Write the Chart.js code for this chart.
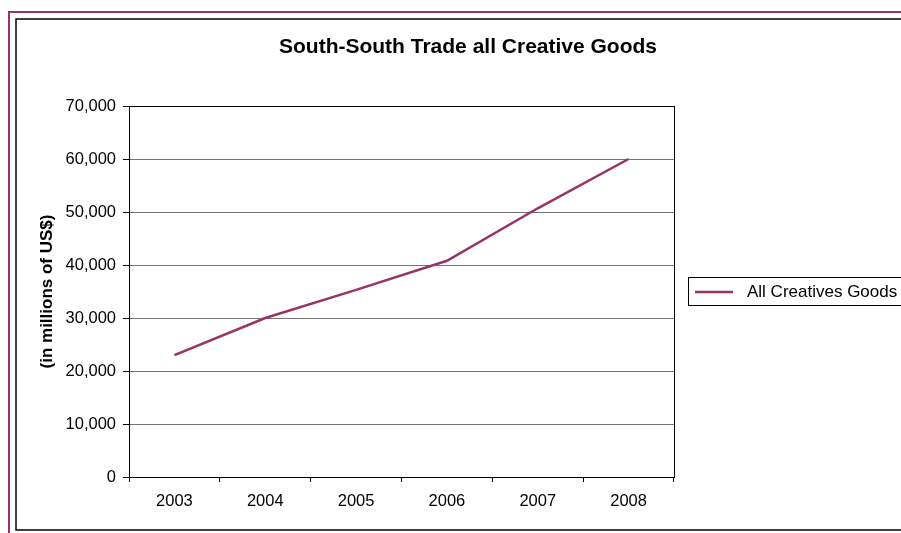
<!DOCTYPE html>
<html>
<head>
<meta charset="utf-8">
<script src="https://cdn.jsdelivr.net/npm/chart.js@4/dist/chart.umd.min.js"></script>
<style>
  html, body { margin: 0; padding: 0; background: #ffffff; }
  #wrap { width: 901px; height: 533px; position: relative; }
  canvas { display: block; }
</style>
</head>
<body>
<div id="wrap"><canvas id="c" width="901" height="533"></canvas></div>
<script>
// Chart text
const chartTitle = 'South-South Trade all Creative Goods';
const yAxisTitle = '(in millions of US$)';
const seriesName = 'All Creatives Goods';

// Categories and values (millions of US$)
const years = ['2003', '2004', '2005', '2006', '2007', '2008'];
const tradeValues = [23000, 30000, 35300, 40800, 50700, 60000];

// Value axis ticks
const yMin = 0;
const yMax = 70000;
const yStep = 10000;

const PLUM = '#993366';
const FONT = '"Liberation Sans", Arial, sans-serif';

// Frames, title, plot-area border and legend box
const decorations = {
  id: 'decorations',
  beforeDraw(chart) {
    const ctx = chart.ctx;
    ctx.save();
    ctx.fillStyle = '#ffffff';
    ctx.fillRect(0, 0, chart.width, chart.height);
    // outer plum frame
    ctx.strokeStyle = PLUM;
    ctx.lineWidth = 2;
    ctx.strokeRect(9, 12, 1200, 1200);
    // inner black frame
    ctx.strokeStyle = '#000000';
    ctx.lineWidth = 1.5;
    ctx.strokeRect(16, 19, 1200, 511);
    // title
    ctx.fillStyle = '#000000';
    ctx.font = 'bold 21px ' + FONT;
    ctx.textAlign = 'center';
    ctx.textBaseline = 'middle';
    ctx.fillText(chartTitle, 468, 47);
    ctx.restore();
  },
  afterDraw(chart) {
    const ctx = chart.ctx;
    const a = chart.chartArea;
    ctx.save();
    // plot area border
    ctx.strokeStyle = '#000000';
    ctx.lineWidth = 1;
    ctx.strokeRect(Math.round(a.left) + 0.5, Math.round(a.top) + 0.5,
                   Math.round(a.right - a.left), Math.round(a.bottom - a.top));
    // legend
    const ds = chart.data.datasets[0];
    ctx.strokeStyle = '#000000';
    ctx.lineWidth = 1;
    ctx.strokeRect(688.5, 277.5, 400, 28);
    ctx.strokeStyle = ds.borderColor;
    ctx.lineWidth = 2.5;
    ctx.beginPath();
    ctx.moveTo(695, 292);
    ctx.lineTo(733, 292);
    ctx.stroke();
    ctx.fillStyle = '#000000';
    ctx.font = '17px ' + FONT;
    ctx.textAlign = 'left';
    ctx.textBaseline = 'middle';
    ctx.fillText(ds.label, 747, 292);
    ctx.restore();
  }
};

new Chart(document.getElementById('c'), {
  type: 'line',
  data: {
    labels: years,
    datasets: [{
      label: seriesName,
      data: tradeValues,
      borderColor: PLUM,
      backgroundColor: PLUM,
      borderWidth: 2.5,
      pointRadius: 0,
      tension: 0,
      fill: false
    }]
  },
  options: {
    responsive: false,
    animation: false,
    devicePixelRatio: 1,
    layout: { padding: { left: 0, right: 227, top: 106, bottom: 0 } },
    plugins: {
      legend: { display: false },
      title: { display: false },
      tooltip: { enabled: false }
    },
    scales: {
      x: {
        type: 'category',
        offset: true,
        grid: {
          offset: true,
          drawOnChartArea: false,
          drawTicks: true,
          tickLength: 5,
          tickColor: '#000000'
        },
        border: { color: '#000000', width: 1 },
        ticks: {
          color: '#000000',
          padding: 10,
          maxRotation: 0,
          font: { family: FONT, size: 16.5 }
        },
        afterFit(scale) { scale.height = 56; }
      },
      y: {
        min: yMin,
        max: yMax,
        grid: {
          color: '#737373',
          lineWidth: 1,
          tickColor: '#000000',
          tickLength: 6
        },
        border: { color: '#000000', width: 1 },
        ticks: {
          stepSize: yStep,
          color: '#000000',
          padding: 7,
          font: { family: FONT, size: 16.5 },
          callback: (v) => Number(v).toLocaleString('en-US')
        },
        title: {
          display: true,
          text: yAxisTitle,
          color: '#000000',
          padding: { top: 37, bottom: 0 },
          font: { family: FONT, size: 17, weight: 'bold' }
        },
        afterFit(scale) { scale.width = 129; }
      }
    }
  },
  plugins: [decorations]
});
</script>
</body>
</html>
